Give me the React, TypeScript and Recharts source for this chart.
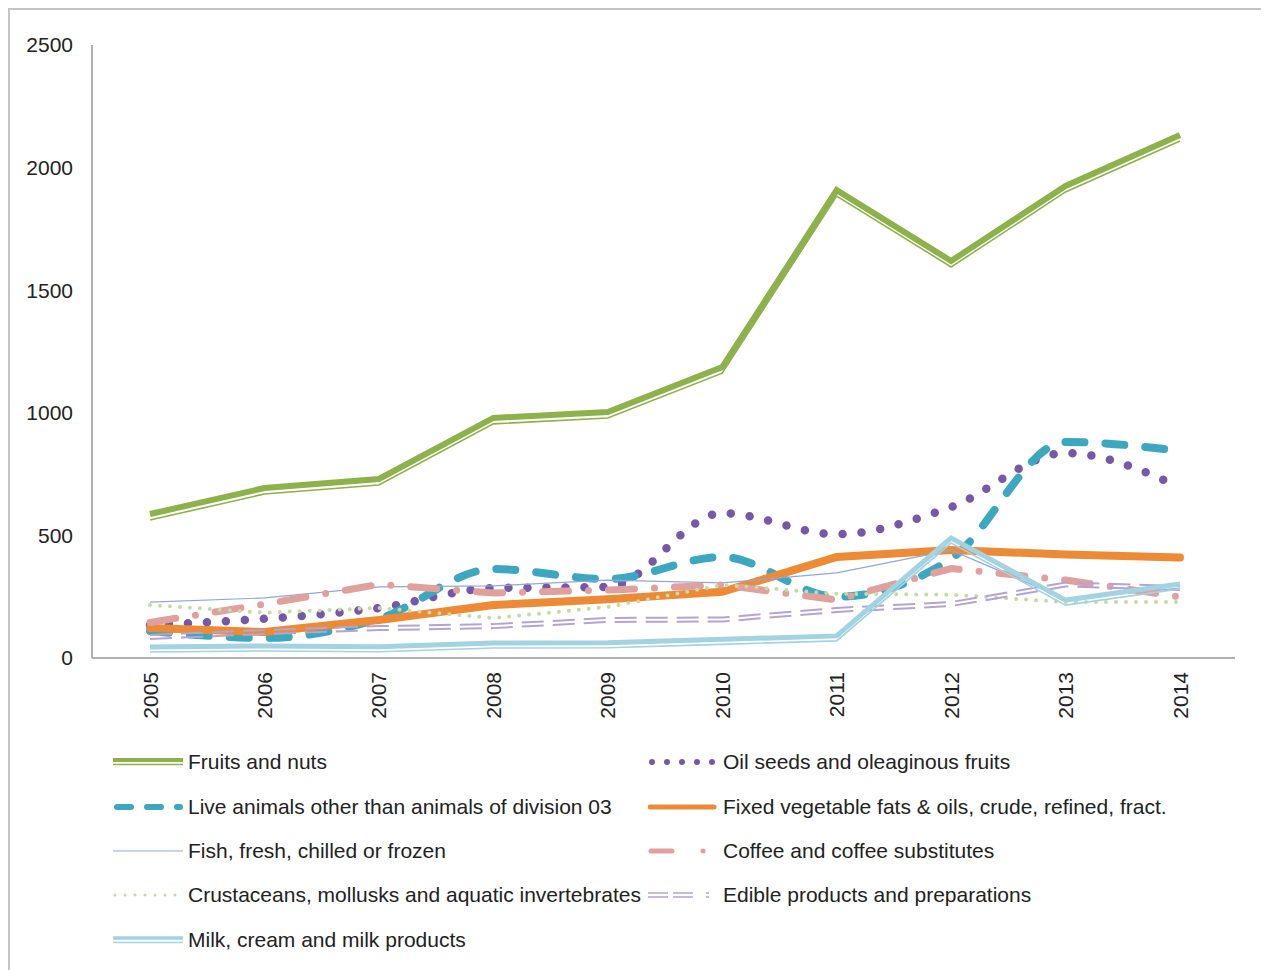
import React from 'react';
import { LineChart, Line, XAxis, YAxis } from 'recharts';

const years = ['2005', '2006', '2007', '2008', '2009', '2010', '2011', '2012', '2013', '2014'];
const yTicks = [0, 500, 1000, 1500, 2000, 2500];

const fruitsNuts = [579, 685, 722, 971, 995, 1178, 1900, 1611, 1917, 2125];
const oilSeeds = [135, 160, 204, 285, 290, 591, 505, 616, 836, 697];
const liveAnimals = [110, 82, 160, 363, 322, 412, 250, 405, 881, 845];
const vegFats = [122, 106, 155, 216, 240, 270, 412, 440, 422, 410];
const fish = [228, 245, 290, 294, 318, 306, 347, 440, 240, 285];
const coffee = [145, 220, 300, 265, 277, 298, 237, 365, 318, 249];
const crustaceans = [216, 185, 204, 163, 208, 298, 262, 258, 228, 228];
const edible = [86, 106, 122, 130, 155, 157, 196, 220, 300, 285];
const milk = [37, 41, 38, 53, 54, 68, 82, 481, 228, 294];

const labels = {
  fruits: 'Fruits and nuts',
  oil: 'Oil seeds and oleaginous fruits',
  live: 'Live animals other than animals of division 03',
  fats: 'Fixed vegetable fats & oils, crude, refined, fract.',
  fish: 'Fish, fresh, chilled or frozen',
  coffee: 'Coffee and coffee substitutes',
  crust: 'Crustaceans, mollusks and aquatic invertebrates',
  edible: 'Edible products and preparations',
  milk: 'Milk, cream and milk products',
};

const data = years.map((y, i) => ({
  year: y,
  fruits: fruitsNuts[i],
  oil: oilSeeds[i],
  live: liveAnimals[i],
  fats: vegFats[i],
  fish: fish[i],
  coffee: coffee[i],
  crust: crustaceans[i],
  edible: edible[i],
  milk: milk[i],
}));

const C = {
  green: '#8db14b',
  purple: '#7659a6',
  teal: '#3ea7c0',
  orange: '#ed8a36',
  fish: '#93a6d8',
  pink: '#e0a09e',
  lgreen: '#c3dca2',
  lav: '#b4a4d0',
  lblue: '#a3d2e1',
};

const FONT = '"Liberation Sans", Arial, Helvetica, sans-serif';
const FS = 21;

const XTick = (props: any) => {
  const { x, y, payload } = props;
  return (
    <text
      x={x}
      y={y}
      transform={`rotate(-90, ${x}, ${y})`}
      textAnchor="end"
      dominantBaseline="central"
      fontSize={FS}
      fontFamily={FONT}
      fill="#222"
    >
      {payload.value}
    </text>
  );
};

const Icon = ({ kind }: { kind: string }) => {
  const w = 70;
  const y = 12;
  let el: React.ReactNode = null;
  switch (kind) {
    case 'fruits':
      el = (
        <g>
          <line x1={0} x2={w} y1={y - 2} y2={y - 2} stroke={C.green} strokeWidth={4} />
          <line x1={0} x2={w} y1={y + 2.5} y2={y + 2.5} stroke={C.green} strokeWidth={1.5} />
        </g>
      );
      break;
    case 'milk':
      el = (
        <g>
          <line x1={0} x2={w} y1={y - 2} y2={y - 2} stroke={C.lblue} strokeWidth={3.5} />
          <line x1={0} x2={w} y1={y + 2.5} y2={y + 2.5} stroke={C.lblue} strokeWidth={1.5} />
        </g>
      );
      break;
    case 'live':
      el = <line x1={4} x2={w - 3} y1={y} y2={y} stroke={C.teal} strokeWidth={6} strokeLinecap="round" strokeDasharray="14 16" />;
      break;
    case 'fish':
      el = <line x1={0} x2={w} y1={y} y2={y} stroke={C.fish} strokeWidth={1} />;
      break;
    case 'crust':
      el = <line x1={2} x2={w} y1={y} y2={y} stroke={C.lgreen} strokeWidth={3} strokeLinecap="round" strokeDasharray="0 10" />;
      break;
    case 'oil':
      el = <line x1={4} x2={w} y1={y} y2={y} stroke={C.purple} strokeWidth={6} strokeLinecap="round" strokeDasharray="0 15" />;
      break;
    case 'fats':
      el = <line x1={2} x2={w - 4} y1={y} y2={y} stroke={C.orange} strokeWidth={5} strokeLinecap="round" />;
      break;
    case 'coffee':
      el = <line x1={3} x2={w} y1={y} y2={y} stroke={C.pink} strokeWidth={5} strokeLinecap="round" strokeDasharray="21 31 0 40" />;
      break;
    case 'edible':
      el = (
        <g>
          <line x1={0} x2={w} y1={y - 2} y2={y - 2} stroke={C.lav} strokeWidth={1.5} strokeDasharray="20 5 20 13 3 20" />
          <line x1={0} x2={w} y1={y + 2} y2={y + 2} stroke={C.lav} strokeWidth={1.5} strokeDasharray="20 5 20 13 3 20" />
        </g>
      );
      break;
  }
  return (
    <svg width={w} height={24} style={{ display: 'block' }}>
      {el}
    </svg>
  );
};

const legendItems = [
  { key: 'fruits', col: 0, row: 0 },
  { key: 'oil', col: 1, row: 0 },
  { key: 'live', col: 0, row: 1 },
  { key: 'fats', col: 1, row: 1 },
  { key: 'fish', col: 0, row: 2 },
  { key: 'coffee', col: 1, row: 2 },
  { key: 'crust', col: 0, row: 3 },
  { key: 'edible', col: 1, row: 3 },
  { key: 'milk', col: 0, row: 4 },
];
const rowCenters = [752, 797, 841, 885, 930];
const colIconX = [103, 638];

export default function App() {
  return (
    <div
      style={{
        position: 'relative',
        width: 1258,
        height: 1000,
        border: '2px solid #c4c4c4',
        boxSizing: 'border-box',
        background: '#fff',
        fontFamily: FONT,
      }}
    >
      <style>{`
        .shift-up2 { transform: translateY(-2px); }
        .shift-dn4 { transform: translateY(4px); }
        .shift-dn3 { transform: translateY(3px); }
        .shift-up2e { transform: translateY(-2px); }
        .shift-dn2e { transform: translateY(2px); }
      `}</style>
      <LineChart width={1250} height={720} data={data} margin={{ top: 35, right: 25, bottom: 0, left: 0 }}>
        <XAxis
          dataKey="year"
          padding={{ left: 58, right: 55 }}
          axisLine={{ stroke: '#b0b0b0', strokeWidth: 2 }}
          tickLine={false}
          tickSize={0}
          tickMargin={14}
          interval={0}
          height={72}
          tick={<XTick />}
        />
        <YAxis
          domain={[0, 2500]}
          ticks={yTicks}
          width={82}
          axisLine={{ stroke: '#b0b0b0', strokeWidth: 2 }}
          tickLine={false}
          tickSize={0}
          tickMargin={19}
          tick={{ fontSize: FS, fontFamily: FONT, fill: '#222' }}
        />
        <Line className="shift-up2" dataKey="fruits" stroke={C.green} strokeWidth={6} dot={false} activeDot={false} isAnimationActive={false} />
        <Line className="shift-dn4" dataKey="fruits" stroke={C.green} strokeWidth={1.6} dot={false} activeDot={false} isAnimationActive={false} />
        <Line type="monotone" dataKey="oil" stroke={C.purple} strokeWidth={8.5} strokeLinecap="round" strokeDasharray="0 19" dot={false} activeDot={false} isAnimationActive={false} />
        <Line type="monotone" dataKey="live" stroke={C.teal} strokeWidth={8} strokeLinecap="round" strokeDasharray="19 21" dot={false} activeDot={false} isAnimationActive={false} />
        <Line dataKey="fats" stroke={C.orange} strokeWidth={8} strokeLinecap="round" dot={false} activeDot={false} isAnimationActive={false} />
        <Line dataKey="fish" stroke={C.fish} strokeWidth={1.2} dot={false} activeDot={false} isAnimationActive={false} />
        <Line dataKey="coffee" stroke={C.pink} strokeWidth={7} strokeLinecap="round" strokeDasharray="26 20 0 20" dot={false} activeDot={false} isAnimationActive={false} />
        <Line dataKey="crust" stroke={C.lgreen} strokeWidth={4} strokeLinecap="round" strokeDasharray="0 10" dot={false} activeDot={false} isAnimationActive={false} />
        <Line className="shift-up2e" dataKey="edible" stroke={C.lav} strokeWidth={2} strokeDasharray="22 9" dot={false} activeDot={false} isAnimationActive={false} />
        <Line className="shift-dn2e" dataKey="edible" stroke={C.lav} strokeWidth={2} strokeDasharray="22 9" dot={false} activeDot={false} isAnimationActive={false} />
        <Line className="shift-up2" dataKey="milk" stroke={C.lblue} strokeWidth={5} dot={false} activeDot={false} isAnimationActive={false} />
        <Line className="shift-dn3" dataKey="milk" stroke={C.lblue} strokeWidth={1.6} dot={false} activeDot={false} isAnimationActive={false} />
      </LineChart>
      {legendItems.map((it) => (
        <div
          key={it.key}
          style={{
            position: 'absolute',
            left: colIconX[it.col],
            top: rowCenters[it.row] - 12,
            height: 24,
            display: 'flex',
            alignItems: 'center',
            whiteSpace: 'nowrap',
          }}
        >
          <Icon kind={it.key} />
          <span style={{ marginLeft: 5, fontSize: FS, color: '#222', fontFamily: FONT, lineHeight: '24px' }}>
            {(labels as any)[it.key]}
          </span>
        </div>
      ))}
    </div>
  );
}
